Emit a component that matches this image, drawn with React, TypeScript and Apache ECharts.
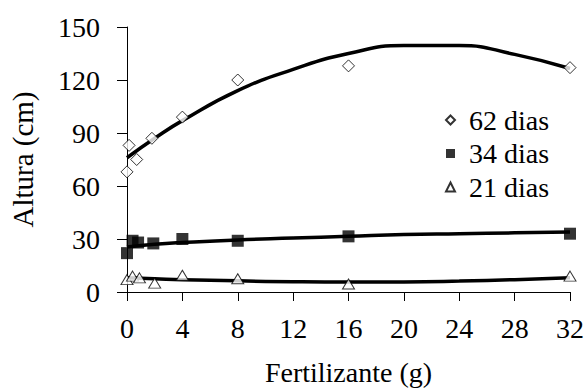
import React, { useEffect, useRef } from "react";
import * as echarts from "echarts";

const xTicks = [0, 4, 8, 12, 16, 20, 24, 28, 32];
const yTicks = [0, 30, 60, 90, 120, 150];

// Observed points (dose g, height cm)
const d62x = [0, 0.15, 0.7, 1.8, 4, 8, 16, 32];
const d62y = [68, 83, 75, 87, 99, 120, 128, 127];
const d34x = [0, 0.4, 0.8, 1.9, 4, 8, 16, 32];
const d34y = [22, 29, 28, 27.5, 30, 29, 31.5, 33];
const d21x = [0, 0.4, 0.9, 2, 4, 8, 16, 32];
const d21y = [7, 9, 8, 5, 9.5, 7.5, 4.5, 9];

// Fitted curves
const curveX = [0, 2, 4, 8, 12, 16, 20, 24, 28, 32];
const curve62 = [76, 87, 97, 114, 126, 135, 139.5, 139.5, 134.5, 126.5];
const curve34 = [25.5, 27, 28, 29.5, 30.5, 31.5, 32.5, 33, 33.5, 34];
const curve21 = [8, 7.5, 7, 6.3, 5.8, 5.6, 5.7, 6.2, 7, 8];

const names = ["62 dias", "34 dias", "21 dias"];

const pair = (xs: number[], ys: number[]) => xs.map((x, i) => [x, ys[i]]);

const FONT = "serif";

export default function App() {
  const ref = useRef<HTMLDivElement>(null);
  useEffect(() => {
    if (!ref.current) return;
    document.body.style.margin = "0";
    const chart = echarts.init(ref.current, undefined, { renderer: "svg" });
    const lineStyle = { color: "#000", width: 3.5 };
    const curve = (ys: number[], id: string) => ({
      type: "line",
      name: id,
      data: pair(curveX, ys),
      smooth: true,
      showSymbol: false,
      symbol: "none",
      lineStyle,
      z: 2,
      silent: true,
    });
    chart.setOption({
      animation: false,
      grid: { left: 125, right: 17, top: 27, bottom: 90 },
      legend: {
        orient: "vertical",
        left: 440,
        top: 101,
        itemWidth: 9,
        itemHeight: 9,
        itemGap: 5.5,
        data: names,
        textStyle: { fontFamily: FONT, fontSize: 28, color: "#000", padding: [0, 0, 0, 9] },
      },
      xAxis: {
        type: "value",
        min: xTicks[0],
        max: xTicks[xTicks.length - 1],
        interval: 4,
        name: "Fertilizante (g)",
        nameLocation: "middle",
        nameGap: 66,
        nameTextStyle: { fontFamily: FONT, fontSize: 28, color: "#000" },
        axisLine: { lineStyle: { color: "#000", width: 1 } },
        axisTick: { show: true, length: 9, lineStyle: { color: "#000" } },
        axisLabel: { fontFamily: FONT, fontSize: 28, color: "#000", margin: 22 },
        splitLine: { show: false },
      },
      yAxis: {
        type: "value",
        min: yTicks[0],
        max: yTicks[yTicks.length - 1],
        interval: 30,
        name: "Altura (cm)",
        nameLocation: "middle",
        nameGap: 90,
        nameTextStyle: { fontFamily: FONT, fontSize: 29, color: "#000" },
        axisLine: { show: true, lineStyle: { color: "#000", width: 1 } },
        axisTick: { show: true, length: 10, lineStyle: { color: "#000" } },
        axisLabel: { fontFamily: FONT, fontSize: 28, color: "#000", margin: 27 },
        splitLine: { show: false },
      },
      series: [
        curve(curve62, "c62"),
        curve(curve34, "c34"),
        curve(curve21, "c21"),
        {
          type: "scatter",
          name: names[0],
          data: pair(d62x, d62y),
          symbol: "diamond",
          symbolSize: 12,
          itemStyle: { color: "#fff", borderColor: "#000", borderWidth: 1 },
          z: 5,
        },
        {
          type: "scatter",
          name: names[1],
          data: pair(d34x, d34y),
          symbol: "rect",
          symbolSize: 12,
          itemStyle: { color: "#000", borderColor: "#000", borderWidth: 0 },
          z: 5,
        },
        {
          type: "scatter",
          name: names[2],
          data: pair(d21x, d21y),
          symbol: "triangle",
          symbolSize: [12, 10],
          itemStyle: { color: "#fff", borderColor: "#000", borderWidth: 1 },
          z: 5,
        },
      ],
    });
    return () => chart.dispose();
  }, []);
  return <div ref={ref} style={{ width: 587, height: 391 }} />;
}
